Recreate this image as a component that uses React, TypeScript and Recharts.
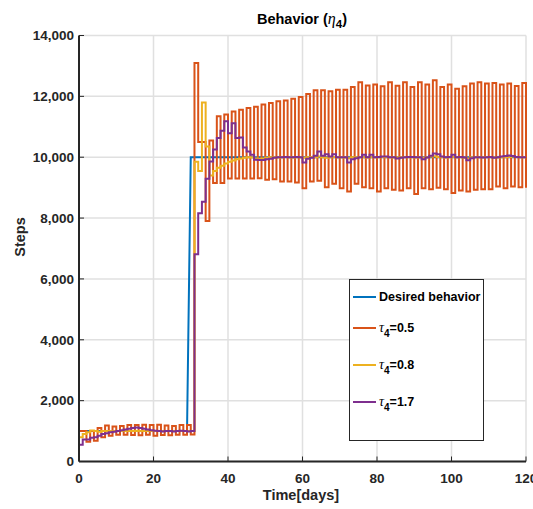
import { CartesianGrid, Legend, Line, LineChart, XAxis, YAxis } from "recharts"

const FONT = '"Liberation Sans", Arial, Helvetica, sans-serif'
const SERIF = '"Liberation Serif", "DejaVu Serif", serif'
const AXIS = "#262626"

// x ticks / y ticks
const xTicks = [0, 20, 40, 60, 80, 100, 120]
const yTicks = [0, 2000, 4000, 6000, 8000, 10000, 12000, 14000]

// desired behaviour (plain line, ramps between day 29 and 30)
const desiredT = [0, 29, 30, 120]
const desiredV = [1000, 1000, 10000, 10000]

// tau4 = 0.5 (stairs, day 0..120)
const tau05 = [
    1000, 1000, 650, 1000, 680, 1100, 800, 1180, 850, 1150,
    880, 1170, 880, 1200, 870, 1200, 860, 1210, 880, 1200,
    850, 1210, 870, 1180, 860, 1170, 880, 1200, 880, 1200,
    890, 13100, 10500, 10500, 7900, 10550, 9150, 11350, 9150, 11400,
    9300, 11500, 9300, 11560, 9300, 11620, 9300, 11660, 9310, 11730,
    9256, 11780, 9278, 11840, 9200, 11860, 9200, 11925, 9170, 11980,
    8980, 12080, 9200, 12200, 9230, 12200, 9015, 12170, 9125, 12220,
    8980, 12220, 8870, 12310, 9125, 12460, 9015, 12360, 8980, 12390,
    8870, 12330, 8980, 12460, 8930, 12350, 8905, 12460, 8980, 12310,
    8795, 12460, 8980, 12390, 8950, 12530, 9000, 12310, 8950, 12390,
    8820, 12250, 8905, 12330, 8870, 12420, 8930, 12460, 8950, 12420,
    8950, 12440, 9040, 12390, 8980, 12420, 9040, 12340, 9015, 12440,
    9000,
]

// tau4 = 0.8
const tau08 = [
    800, 900, 960, 1020, 1000, 980, 1000, 1000, 1000, 1000,
    1000, 1000, 1000, 1000, 1000, 1000, 1000, 1000, 1000, 1000,
    1000, 1000, 1000, 1000, 1000, 1000, 1000, 1000, 1000, 1000,
    1000, 9850, 9550, 11800, 10350, 9400, 9550, 9650, 9720, 9790,
    9850, 9890, 9930, 9960, 9980, 10000, 9990, 9960, 9950, 9960,
    9980, 10000, 10000, 9990, 10000, 10010, 10000, 9990, 10000, 10000,
    9980, 10000, 10010, 10000, 10020, 10000, 9980, 10000, 10010, 10000,
    10000, 9990, 9970, 10000, 10000, 10010, 10000, 9990, 10000, 10000,
    10000, 10010, 10000, 10000, 9990, 10000, 10000, 10010, 10000, 10000,
    9990, 10000, 9980, 10000, 10020, 10030, 10010, 10000, 9990, 10000,
    10010, 10000, 10000, 9980, 9960, 9990, 10000, 10000, 10000, 10010,
    10000, 10000, 9990, 10000, 10000, 10010, 10020, 10010, 10000, 10000,
    10000,
]

// tau4 = 1.7
const tau17 = [
    550, 720, 720, 780, 800, 850, 900, 930, 960, 980,
    1000, 1030, 1050, 1080, 1100, 1120, 1100, 1080, 1050, 1030,
    1010, 1000, 990, 1000, 1000, 990, 1000, 1010, 1000, 990,
    1000, 6810, 8160, 8540, 9290, 9860, 10250, 10630, 10870, 11180,
    10790, 11120, 10630, 10650, 10320, 10190, 10080, 9920, 9910, 9910,
    9930, 9950, 9980, 10000, 10000, 10010, 10000, 10000, 10010, 10000,
    9830, 9950, 9980, 10050, 10190, 10050, 10100, 10020, 10100, 10000,
    10000, 10000, 9830, 9930, 9970, 10000, 10080, 10000, 10080, 10000,
    10010, 10020, 10020, 10000, 10000, 9960, 9980, 10000, 10010, 10010,
    10000, 10000, 9930, 9990, 10050, 10120, 10100, 10020, 10000, 10010,
    10080, 10000, 10010, 9990, 9900, 9970, 10000, 10000, 9990, 10000,
    10010, 9980, 10000, 10020, 10040, 10060, 10040, 10010, 10000, 10000,
    10000,
]

const desiredData = desiredT.map((t, i) => ({ t, v: desiredV[i] }))
const stairsData = tau05.map((v, i) => ({ t: i, a: v, b: tau08[i], c: tau17[i] }))

const legendRows = [
    { color: "#0072BD", name: "Desired behavior", tau: "", cy: 16.5 },
    { color: "#D95319", name: "=0.5", tau: "τ", cy: 47.5 },
    { color: "#EDB120", name: "=0.8", tau: "τ", cy: 84.5 },
    { color: "#7E2F8E", name: "=1.7", tau: "τ", cy: 121.5 },
]

const XTick = (props: any) => {
    const { x, y, payload } = props
    const axisY = y - 12
    return (
        <g>
            <line x1={x} x2={x} y1={axisY} y2={axisY - 5} stroke={AXIS} strokeWidth={1} />
            <text x={x} y={y} dy="0.71em" textAnchor="middle" fontFamily={FONT} fontWeight="bold" fontSize={13.5} fill={AXIS}>
                {payload.value}
            </text>
        </g>
    )
}

const TopTick = (props: any) => {
    const { x, y } = props
    return <line x1={x} x2={x} y1={y} y2={y + 5} stroke={AXIS} strokeWidth={1} />
}

const YTick = (props: any) => {
    const { x, y, payload } = props
    const axisX = x + 5
    return (
        <g>
            <line x1={axisX} x2={axisX + 5} y1={y} y2={y} stroke={AXIS} strokeWidth={1} />
            <text x={x} y={y} dy="0.355em" textAnchor="end" fontFamily={FONT} fontWeight="bold" fontSize={13.5} fill={AXIS}>
                {payload.value.toLocaleString("en-US")}
            </text>
        </g>
    )
}

const RightTick = (props: any) => {
    const { x, y } = props
    return <line x1={x} x2={x - 5} y1={y} y2={y} stroke={AXIS} strokeWidth={1} />
}

const renderXLabel = () => (
    <text x={301} y={500} textAnchor="middle" fontFamily={FONT} fontWeight="bold" fontSize={14.5} fill={AXIS}>
        Time[days]
    </text>
)

// y label plus the chart title
const renderYLabel = () => (
    <g>
        <text x={25} y={237} transform="rotate(-90 25 237)" textAnchor="middle" fontFamily={FONT} fontWeight="bold" fontSize={14.5} fill={AXIS}>
            Steps
        </text>
        <text x={302} y={24} textAnchor="middle" fontFamily={FONT} fontWeight="bold" fontSize={14.5} fill="#000">
            <tspan>Behavior (</tspan>
            <tspan fontFamily={SERIF} fontStyle="italic" fontWeight="normal" fontSize={16}>η</tspan>
            <tspan dy={4} fontSize={11.5}>4</tspan>
            <tspan dy={-4}>)</tspan>
        </text>
    </g>
)

const renderLegend = () => (
    <div
        style={{
            width: 135,
            height: 162,
            border: `1px solid ${AXIS}`,
            boxSizing: "border-box",
            background: "#fff",
            position: "relative",
            fontFamily: FONT,
            fontWeight: "bold",
            fontSize: 12.5,
            color: "#000",
        }}
    >
        {legendRows.map((r) => (
            <div
                key={r.color}
                style={{ position: "absolute", left: 3, top: r.cy - 10, height: 20, display: "flex", alignItems: "center", whiteSpace: "nowrap" }}
            >
                <svg width={23} height={4} style={{ marginRight: 3, display: "block" }}>
                    <line x1={0} x2={23} y1={2} y2={2} stroke={r.color} strokeWidth={2} />
                </svg>
                {r.tau ? (
                    <span>
                        <span style={{ fontFamily: SERIF, fontStyle: "italic", fontWeight: "normal", fontSize: 14 }}>{r.tau}</span>
                        <span style={{ fontSize: 10, position: "relative", top: 5 }}>4</span>
                        {r.name}
                    </span>
                ) : (
                    <span>{r.name}</span>
                )}
            </div>
        ))}
    </div>
)

export default function App() {
    return (
        <div style={{ position: "absolute", left: 0, top: 0, width: 533, height: 509, background: "#fff" }}>
            <LineChart width={533} height={509} margin={{ top: 35.5, right: 7, bottom: 17.5, left: 0 }}>
                <CartesianGrid stroke="#e0e0e0" strokeWidth={1.5} />
                <XAxis
                    dataKey="t"
                    type="number"
                    domain={[0, 120]}
                    ticks={xTicks}
                    interval={0}
                    height={30}
                    tickSize={0}
                    tickMargin={12}
                    tickLine={false}
                    axisLine={{ stroke: AXIS, strokeWidth: 2 }}
                    tick={XTick}
                    label={{ content: renderXLabel }}
                />
                <XAxis
                    xAxisId="top"
                    orientation="top"
                    dataKey="t"
                    type="number"
                    domain={[0, 120]}
                    ticks={xTicks}
                    interval={0}
                    height={0}
                    tickSize={0}
                    tickMargin={0}
                    tickLine={false}
                    axisLine={{ stroke: AXIS, strokeWidth: 2 }}
                    tick={TopTick}
                />
                <YAxis
                    type="number"
                    domain={[0, 14000]}
                    ticks={yTicks}
                    interval={0}
                    width={79}
                    tickSize={0}
                    tickMargin={5}
                    tickLine={false}
                    axisLine={{ stroke: AXIS, strokeWidth: 2 }}
                    tick={YTick}
                    label={{ content: renderYLabel }}
                />
                <YAxis
                    yAxisId="right"
                    orientation="right"
                    type="number"
                    domain={[0, 14000]}
                    ticks={yTicks}
                    interval={0}
                    width={0}
                    tickSize={0}
                    tickMargin={0}
                    tickLine={false}
                    axisLine={{ stroke: AXIS, strokeWidth: 2 }}
                    tick={RightTick}
                />
                <Line data={desiredData} dataKey="v" type="linear" stroke="#0072BD" strokeWidth={2} dot={false} isAnimationActive={false} />
                <Line data={stairsData} dataKey="a" type="stepAfter" stroke="#D95319" strokeWidth={2} dot={false} isAnimationActive={false} />
                <Line data={stairsData} dataKey="b" type="stepAfter" stroke="#EDB120" strokeWidth={2} dot={false} isAnimationActive={false} />
                <Line data={stairsData} dataKey="c" type="stepAfter" stroke="#7E2F8E" strokeWidth={2} dot={false} isAnimationActive={false} />
                <Legend
                    layout="horizontal"
                    verticalAlign="middle"
                    align="center"
                    content={renderLegend}
                    wrapperStyle={{ left: 349, top: 279, width: 135, height: 162 }}
                />
            </LineChart>
        </div>
    )
}
